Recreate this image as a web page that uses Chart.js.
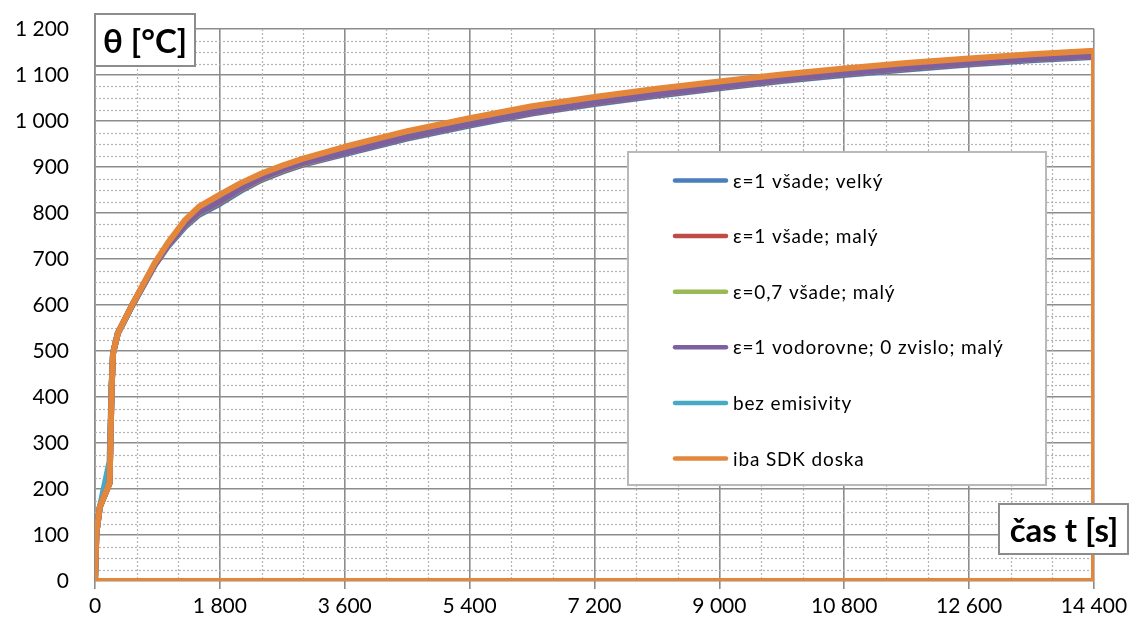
<!DOCTYPE html>
<html>
<head>
<meta charset="utf-8">
<script src="https://cdn.jsdelivr.net/npm/chart.js@4.4.1/dist/chart.umd.min.js"></script>
<style>
html,body{margin:0;padding:0;background:#fff;}
canvas{display:block;}
</style>
</head>
<body>
<canvas id="c" width="1133" height="628"></canvas>
<script>
// ---- data ----
const times = [0, 20, 70, 210, 240, 260, 330, 520, 860, 1050, 1300, 1500, 1800, 2100, 2400, 2700, 3000, 3600, 4500, 5400, 6300, 7200, 8100, 9000, 9900, 10800, 11700, 12600, 13500, 14400];
const velky1   = [0, 104, 161, 213, 420, 495, 539, 594, 686, 727, 770, 796, 820, 848, 872, 890, 905, 928, 962, 990, 1016, 1037, 1055, 1071, 1087, 1100, 1112, 1123, 1132, 1139];
const maly1    = [0, 104, 161, 213, 420, 495, 539, 595, 687, 729, 773, 799, 823, 851, 874, 892, 907, 930, 964, 992, 1018, 1039, 1057, 1073, 1089, 1102, 1114, 1125, 1134, 1141];
const maly07   = [0, 104, 161, 213, 420, 495, 539, 595, 688, 730, 774, 800, 824, 852, 875, 893, 908, 931, 965, 993, 1019, 1040, 1058, 1074, 1090, 1103, 1115, 1126, 1135, 1142];
const vodorovne= [0, 104, 161, 213, 420, 495, 539, 595, 688, 730, 775, 801, 825, 853, 876, 894, 909, 931, 965, 993, 1019, 1040, 1058, 1074, 1090, 1103, 1115, 1126, 1135, 1142];
const bezEmis  = [0, 104, 161, 260, 430, 495, 539, 595, 689, 731, 776, 802, 826, 854, 877, 895, 910, 932, 966, 994, 1020, 1041, 1059, 1075, 1091, 1104, 1116, 1127, 1136, 1143];
const sdkTimes = [0, 20, 70, 210, 240, 260, 330, 520, 860, 1050, 1300, 1500, 1800, 2100, 2400, 2700, 3000, 3600, 4500, 5400, 6300, 7200, 8100, 9000, 9900, 10800, 11700, 12600, 13500, 14400, 14400, 0];
const sdkDoska = [0, 104, 161, 213, 420, 495, 539, 596, 691, 735, 785, 814, 840, 865, 886, 903, 918, 944, 978, 1006, 1032, 1052, 1070, 1086, 1101, 1114, 1126, 1136, 1145, 1153, 0, 0];

const seriesNames = ["ε=1 všade; velký", "ε=1 všade; malý", "ε=0,7 všade; malý", "ε=1 vodorovne; 0 zvislo; malý", "bez emisivity", "iba SDK doska"];
const seriesColors = ["#4A7EBB", "#BE4B48", "#98B954", "#7D60A0", "#46AAC5", "#E5873A"];

const xTickValues = [0, 1800, 3600, 5400, 7200, 9000, 10800, 12600, 14400];
const xTickLabels = ["0", "1 800", "3 600", "5 400", "7 200", "9 000", "10 800", "12 600", "14 400"];
const yTickValues = [0, 100, 200, 300, 400, 500, 600, 700, 800, 900, 1000, 1100, 1200];
const yTickLabels = ["0", "100", "200", "300", "400", "500", "600", "700", "800", "900", "1 000", "1 100", "1 200"];

const yTitle = "θ [°C]";
const xTitle = "čas t [s]";

// ---- build ----
function pts(xs, ys){ return xs.map((x,i)=>({x:x, y:ys[i]})); }
const seriesData = [pts(times, velky1), pts(times, maly1), pts(times, maly07), pts(times, vodorovne), pts(times, bezEmis), pts(sdkTimes, sdkDoska)];
const orders = [5, 4, 3, 1, 2, 0];

const datasets = seriesNames.map((n,i)=>({
  label: n,
  data: seriesData[i],
  borderColor: seriesColors[i],
  backgroundColor: seriesColors[i],
  borderWidth: 6,
  pointRadius: 0,
  tension: 0,
  fill: false,
  borderJoinStyle: 'round',
  borderCapStyle: 'round',
  order: orders[i]
}));

const FONT = "Lato, 'Open Sans', sans-serif";

const minorGrid = {
  id: 'minorGrid',
  beforeDatasetsDraw(chart){
    const ctx = chart.ctx, xs = chart.scales.x, ys = chart.scales.y, a = chart.chartArea;
    ctx.save();
    ctx.strokeStyle = '#B4B4B4';
    ctx.lineWidth = 1.2;
    ctx.setLineDash([2, 2]);
    for (let v = 600; v < 14400; v += 600) {
      if (v % 1800 === 0) continue;
      const px = Math.round(xs.getPixelForValue(v)) + 0.5;
      ctx.beginPath(); ctx.moveTo(px, a.top); ctx.lineTo(px, a.bottom); ctx.stroke();
    }
    for (let v = 25; v < 1200; v += 25) {
      if (v % 100 === 0) continue;
      const py = Math.round(ys.getPixelForValue(v)) + 0.5;
      ctx.beginPath(); ctx.moveTo(a.left, py); ctx.lineTo(a.right, py); ctx.stroke();
    }
    ctx.restore();
  }
};

function box(ctx, x, y, w, h, border, lw){
  ctx.fillStyle = '#fff';
  ctx.fillRect(x, y, w, h);
  ctx.strokeStyle = border;
  ctx.lineWidth = lw;
  ctx.strokeRect(x, y, w, h);
}

const overlay = {
  id: 'overlay',
  afterDraw(chart){
    const ctx = chart.ctx;
    ctx.save();
    // legend box
    box(ctx, 628, 152, 418, 333, '#B9B9B9', 2);
    chart.data.datasets.forEach((ds, i) => {
      const cy = 180.5 + i * 55.6;
      ctx.strokeStyle = ds.borderColor;
      ctx.lineWidth = 4.5;
      ctx.lineCap = 'round';
      ctx.beginPath(); ctx.moveTo(675, cy); ctx.lineTo(726, cy); ctx.stroke();
      ctx.fillStyle = '#000';
      ctx.font = "19px " + FONT;
      ctx.letterSpacing = '0.85px';
      ctx.textBaseline = 'middle';
      ctx.textAlign = 'left';
      ctx.fillText(ds.label, 733, cy + 1);
    });
    ctx.letterSpacing = '0px';
    // axis titles
    box(ctx, 95, 14, 100, 52, '#8C8C8C', 2);
    ctx.fillStyle = '#000';
    ctx.font = "bold 33px " + FONT;
    ctx.textAlign = 'center';
    ctx.textBaseline = 'middle';
    ctx.fillText(yTitle, 145, 42);
    box(ctx, 999, 504, 129, 50, '#8C8C8C', 2);
    ctx.fillStyle = '#000';
    ctx.fillText(xTitle, 1064, 531);
    ctx.restore();
  }
};

new Chart(document.getElementById('c'), {
  type: 'line',
  data: { datasets: datasets },
  options: {
    responsive: false,
    animation: false,
    devicePixelRatio: 1,
    layout: { autoPadding: false, padding: { top: 29, right: 39, left: 0, bottom: 0 } },
    plugins: { legend: { display: false }, tooltip: { enabled: false } },
    scales: {
      x: {
        type: 'linear',
        min: 0, max: 14400,
        afterBuildTicks: s => { s.ticks = xTickValues.map(v => ({value: v})); },
        afterFit: s => { s.height = 47; },
        ticks: {
          callback: (v) => xTickLabels[xTickValues.indexOf(v)],
          font: { family: FONT, size: 21 },
          color: '#000',
          padding: 5,
          maxRotation: 0,
          autoSkip: false
        },
        grid: { color: '#8C8C8C', lineWidth: 1.6, drawTicks: true, tickLength: 8 },
        border: { display: false }
      },
      y: {
        type: 'linear',
        min: 0, max: 1200,
        afterBuildTicks: s => { s.ticks = yTickValues.map(v => ({value: v})); },
        afterFit: s => { s.width = 95; },
        ticks: {
          callback: (v) => yTickLabels[yTickValues.indexOf(v)],
          font: { family: FONT, size: 21 },
          color: '#000',
          padding: 2
        },
        grid: { color: '#8C8C8C', lineWidth: 1.6, drawTicks: true, tickLength: 24, tickColor: 'rgba(0,0,0,0)' },
        border: { display: true, color: '#8C8C8C', width: 1.6 }
      }
    }
  },
  plugins: [minorGrid, overlay]
});
</script>
</body>
</html>
